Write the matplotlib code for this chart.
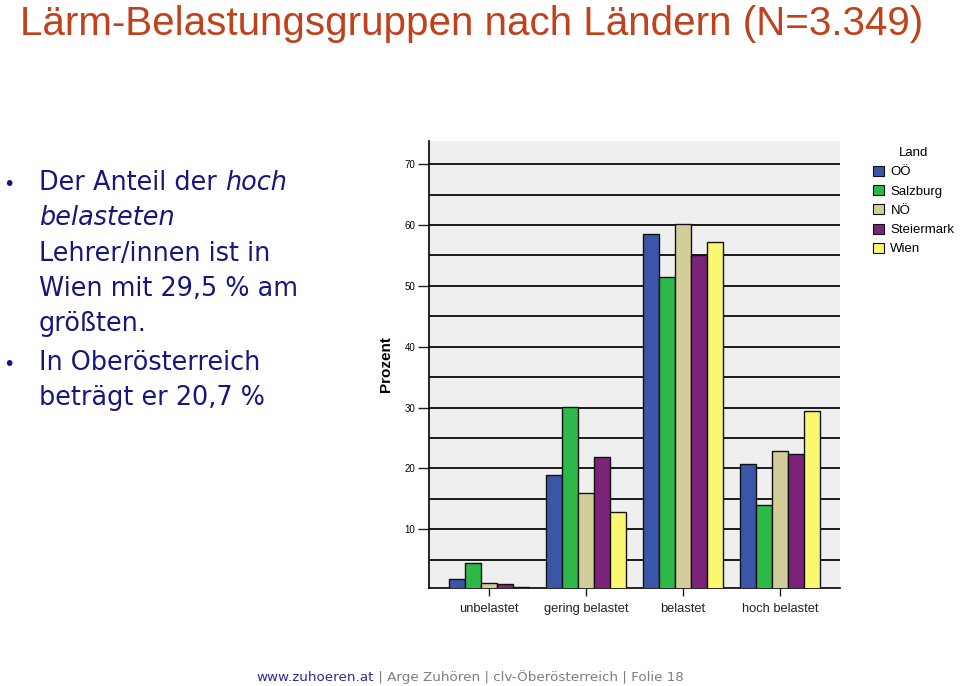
import matplotlib
matplotlib.use("Agg")
import matplotlib.pyplot as plt
import numpy as np
from matplotlib.patches import Patch

categories = ["unbelastet", "gering belastet", "belastet", "hoch belastet"]
laender = ["OÖ", "Salzburg", "NÖ", "Steiermark", "Wien"]
values_ooe = [1.8, 18.9, 58.6, 20.7]
values_salzburg = [4.5, 30.1, 51.5, 14.0]
values_noe = [1.2, 16.0, 60.1, 22.8]
values_stmk = [1.0, 21.9, 55.0, 22.3]
values_wien = [0.45, 12.9, 57.2, 29.5]
series = [values_ooe, values_salzburg, values_noe, values_stmk, values_wien]
colors = ["#3B55A8", "#2DB84A", "#D3CD99", "#7A2379", "#FAF870"]
yticks = [10, 20, 30, 40, 50, 60, 70]

W, H = 960, 686
fig = plt.figure(figsize=(W / 100, H / 100), dpi=100)
fig.patch.set_facecolor("white")

def fy(py):
    return 1 - py / H

def fx(px):
    return px / W

renderer = fig.canvas.get_renderer()

# Title
title = fig.text(fx(20), fy(35), "Lärm-Belastungsgruppen nach Ländern (N=3.349)",
                 color="#C0421C", fontsize=30, family="Liberation Sans", va="baseline", ha="left")
bb = title.get_window_extent(renderer=renderer)
title.set_fontsize(30 * 902 / bb.width)

# Bullet text
navy = "#16167E"
fs = 18.4
lines = [
    (190, [("Der Anteil der ", "normal"), ("hoch", "italic")], True),
    (225, [("belasteten", "italic")], False),
    (261, [("Lehrer/innen ist in", "normal")], False),
    (296, [("Wien mit 29,5 % am", "normal")], False),
    (331, [("größten.", "normal")], False),
    (370, [("In Oberösterreich", "normal")], True),
    (405, [("beträgt er 20,7 %", "normal")], False),
]
for base, parts, bullet in lines:
    if bullet:
        fig.text(fx(3), fy(base), "•", color=navy, fontsize=14, family="DejaVu Sans", va="baseline")
    x = fx(39)
    for txt, style in parts:
        t = fig.text(x, fy(base), txt, color=navy, fontsize=fs, family="DejaVu Sans",
                     style=style, va="baseline", ha="left")
        bbt = t.get_window_extent(renderer=renderer)
        x = x + bbt.width / W

# Chart
ax = fig.add_axes([fx(429), fy(587.7), fx(840) - fx(429), fy(141) - fy(587.7)])
ax.set_facecolor("#EFEFEF")
n = len(series)
bw = 0.165
x = np.arange(len(categories))
for i, (vals, c, lab) in enumerate(zip(series, colors, laender)):
    ax.bar(x + (i - (n - 1) / 2) * bw, vals, width=bw, color=c, edgecolor="#111111",
           linewidth=1.0, label=lab, zorder=3)
ax.set_xlim(-0.62, 3.62)
ax.set_ylim(0.4, 73.8)
for g in np.arange(5, 75, 5):
    ax.axhline(g, color="#1a1a1a", linewidth=1.4, zorder=1)
ax.set_yticks(yticks)
ax.set_yticklabels([str(v) for v in yticks], fontsize=7, family="Liberation Sans")
ax.set_xticks(x)
ax.set_xticklabels(categories, fontsize=9.3, family="Liberation Sans", color="#222222")
ax.tick_params(axis="y", length=8, width=1, color="#222222", pad=2)
ax.tick_params(axis="x", length=6, width=1, color="#222222", pad=5)
for s in ["top", "right"]:
    ax.spines[s].set_visible(False)
ax.spines["left"].set_linewidth(1.2)
ax.spines["bottom"].set_linewidth(1.2)
ax.set_ylabel("Prozent", fontsize=11, fontweight="bold", family="Liberation Sans", labelpad=8)

handles = [Patch(facecolor=c, edgecolor="#111111", linewidth=0.8) for c in colors]
leg = fig.legend(handles, laender, title="Land", loc="upper left",
                 bbox_to_anchor=(fx(864), fy(138)), frameon=False,
                 prop={"family": "Liberation Sans", "size": 9.5},
                 title_fontproperties={"family": "Liberation Sans", "size": 9.5},
                 handlelength=0.8, handleheight=0.8, handletextpad=0.5,
                 labelspacing=0.5, borderpad=0.2)
leg._legend_box.align = "center"

# Footer
x0 = fx(256)
t = fig.text(x0, fy(681), "www.zuhoeren.at", color="#2B2B9C", fontsize=9.7,
             family="DejaVu Sans", va="baseline", ha="left")
bbf = t.get_window_extent(renderer=renderer)
fig.text(x0 + bbf.width / W, fy(681), " | Arge Zuhören | clv-Öberösterreich | Folie 18",
         color="#7F7F7F", fontsize=9.7, family="DejaVu Sans", va="baseline", ha="left")

fig.savefig("out.png", dpi=100, facecolor="white")
